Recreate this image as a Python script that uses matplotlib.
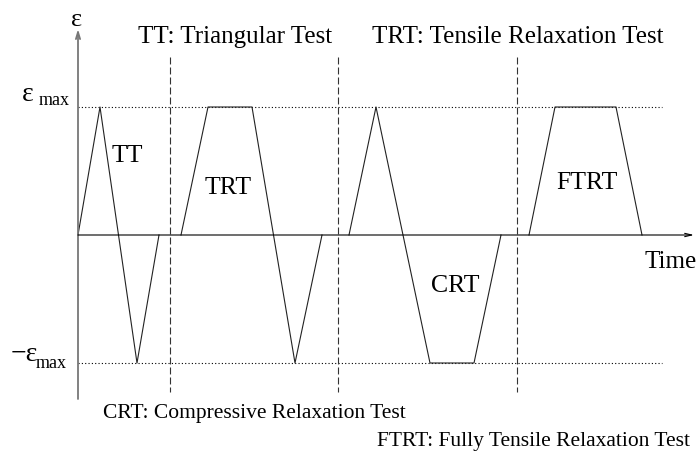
import matplotlib.pyplot as plt

plt.rcParams['font.family'] = ['Liberation Serif', 'DejaVu Serif']
plt.rcParams['lines.scale_dashes'] = False

# time (arbitrary units) and strain (in units of eps_max) of each test
tt_t = [0, 22, 59, 81]
tt_e = [0, 1, -1, 0]
trt_t = [103, 130, 174, 217, 244]
trt_e = [0, 1, 1, -1, 0]
crt_t = [271, 298, 352, 396, 423]
crt_e = [0, 1, -1, -1, 0]
ftrt_t = [451, 477, 538, 564]
ftrt_e = [0, 1, 1, 0]
limites = [92, 260, 439]
eps_max = 1

labels = ['TT', 'TRT', 'CRT', 'FTRT']
descr = ['TT: Triangular Test', 'TRT: Tensile Relaxation Test',
         'CRT: Compressive Relaxation Test', 'FTRT: Fully Tensile Relaxation Test']

X0, Y0, ESC = 78, 236, 128   # origen y escala en pixeles


def px(x, y):
    return x - X0, (Y0 - y) / ESC


fig = plt.figure(figsize=(6.97, 4.52), dpi=100)
ax = fig.add_axes([0, 0, 1, 1])
ax.set_xlim(-X0, 697 - X0)
ax.set_ylim(-(452 - Y0) / ESC, Y0 / ESC)
ax.axis('off')

# ejes con flecha
ax.annotate('', xy=px(78, 30), xytext=px(78, 400),
            arrowprops=dict(arrowstyle='->,head_length=0.5,head_width=0.15',
                            color='#777777', lw=1.3, shrinkA=0, shrinkB=0))
ax.annotate('', xy=(px(694, 0)[0], 0), xytext=(0, 0),
            arrowprops=dict(arrowstyle='->,head_length=0.5,head_width=0.12',
                            color='black', lw=0.8, shrinkA=0, shrinkB=0))

# niveles +-eps_max
for e in [eps_max, -eps_max]:
    ax.plot([0, px(662, 0)[0]], [e, e], color='black', lw=0.8,
            linestyle=(0, (0.8, 1.6)))

# separadores
for b in limites:
    ax.plot([b, b], [px(0, 58)[1], px(0, 393)[1]], color='#333333', lw=0.8,
            linestyle=(0, (5, 2.2)))

for t, e in [(tt_t, tt_e), (trt_t, trt_e), (crt_t, crt_e), (ftrt_t, ftrt_e)]:
    ax.plot(t, e, color='#222222', lw=0.8)

# etiquetas dentro
pos_lab = [(127, 162), (228, 194), (455, 292), (587, 189)]
for lab, (x, y) in zip(labels, pos_lab):
    ax.text(*px(x, y), lab, fontsize=18.5, ha='center', va='baseline')

# textos de cabecera y pie
ax.text(*px(138, 43), descr[0], fontsize=18, ha='left', va='baseline')
ax.text(*px(372, 43), descr[1], fontsize=18, ha='left', va='baseline')
ax.text(*px(103, 418), descr[2], fontsize=15.5, ha='left', va='baseline')
ax.text(*px(690, 446), descr[3], fontsize=15.5, ha='right', va='baseline')
ax.text(*px(697, 268), 'Time', fontsize=18, ha='right', va='baseline')

# eje y
ax.text(*px(77, 26), '\u03b5', fontsize=19, ha='center', va='baseline')
ax.text(*px(22, 101), '\u03b5', fontsize=20, ha='left', va='baseline')
ax.text(*px(39, 105), 'max', fontsize=13, ha='left', va='baseline')
ax.text(*px(11, 361), '\u2212\u03b5', fontsize=20, ha='left', va='baseline')
ax.text(*px(36, 368), 'max', fontsize=13, ha='left', va='baseline')

fig.savefig('out.png', dpi=100)
